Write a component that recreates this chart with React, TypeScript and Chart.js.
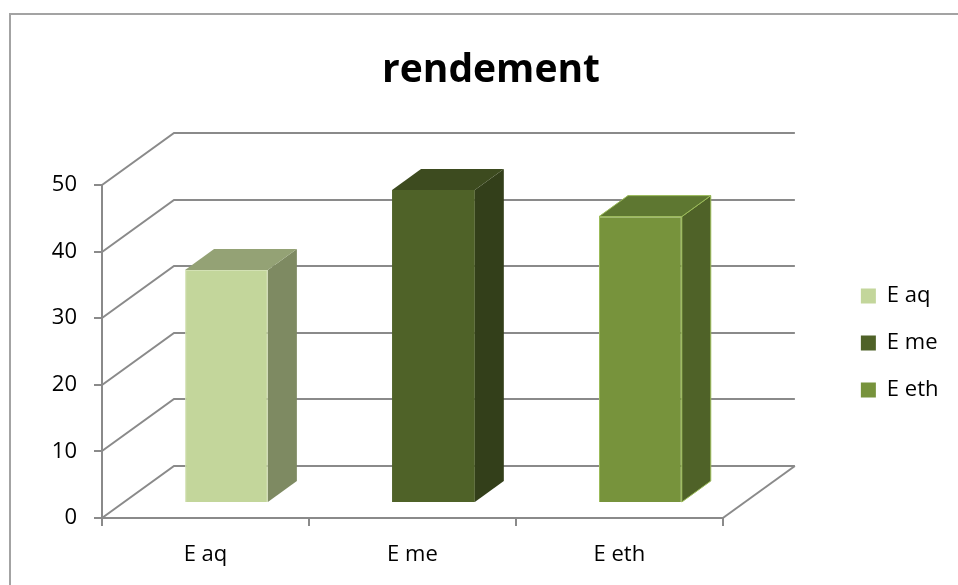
import React, { useEffect, useRef } from 'react';
import { Chart, registerables } from 'chart.js';

Chart.register(...registerables);

// ---- data ----
const categories = ['E aq', 'E me', 'E eth'];
const values = [35, 47, 43];
const yMin = 0;
const yMax = 50;
const yStep = 10;
const chartTitle = 'rendement';

// ---- colours ----
const frontColors = ['#c3d69b', '#4f6228', '#77933c'];
const sideColors = ['#7e8a62', '#333f1a', '#4f6228'];
const topColors = ['#94a275', '#3d4b1f', '#5e7731'];
const edgeColors = ['#d3e1b4', '#4f6228', '#9bbb59'];

const FONT = '"Open Sans", "Noto Sans", sans-serif';
const GRID = '#8a8a8a';

// 3D projection (style)
const DEPTH_X = 72;
const DEPTH_Y = -52;
const BAR_FRONT = 0.29;
const BAR_DEPTH = 0.4;

const threeD = {
  id: 'threeD',
  beforeDraw(chart: any) {
    const ctx = chart.ctx;
    ctx.save();
    ctx.fillStyle = '#ffffff';
    ctx.fillRect(0, 0, chart.width, chart.height);
    ctx.strokeStyle = '#a3a3a3';
    ctx.lineWidth = 2;
    ctx.strokeRect(10, 14, chart.width + 40, chart.height + 40);
    ctx.restore();
  },
  beforeDatasetsDraw(chart: any) {
    const ctx = chart.ctx;
    const a = chart.chartArea;
    const y = chart.scales.y;
    ctx.save();
    ctx.strokeStyle = GRID;
    ctx.lineWidth = 2;
    ctx.lineJoin = 'miter';
    for (const t of y.ticks) {
      const py = Math.round(y.getPixelForValue(t.value));
      ctx.beginPath();
      ctx.moveTo(a.left, py);
      ctx.lineTo(a.left + DEPTH_X, py + DEPTH_Y);
      ctx.lineTo(a.right + DEPTH_X, py + DEPTH_Y);
      ctx.stroke();
    }
    const pb = Math.round(y.getPixelForValue(yMin));
    ctx.beginPath();
    ctx.moveTo(a.right, pb);
    ctx.lineTo(a.right + DEPTH_X, pb + DEPTH_Y);
    ctx.stroke();
    ctx.restore();
    ctx.save();
    ctx.translate(Math.round(DEPTH_X * BAR_FRONT), Math.round(DEPTH_Y * BAR_FRONT));
  },
  afterDatasetsDraw(chart: any) {
    const ctx = chart.ctx;
    ctx.restore();
    const fx = Math.round(DEPTH_X * BAR_FRONT);
    const fy = Math.round(DEPTH_Y * BAR_FRONT);
    const bx = Math.round(DEPTH_X * BAR_DEPTH);
    const by = Math.round(DEPTH_Y * BAR_DEPTH);
    const meta = chart.getDatasetMeta(0);
    meta.data.forEach((el: any, i: number) => {
      const { x, y, base, width } = el.getProps(['x', 'y', 'base', 'width'], true);
      const xl = x - width / 2 + fx;
      const xr = x + width / 2 + fx;
      const top = y + fy;
      const bot = base + fy;
      ctx.save();
      // side face
      ctx.beginPath();
      ctx.moveTo(xr, top);
      ctx.lineTo(xr + bx, top + by);
      ctx.lineTo(xr + bx, bot + by);
      ctx.lineTo(xr, bot);
      ctx.closePath();
      ctx.fillStyle = sideColors[i];
      ctx.fill();
      if (i === 2) {
        ctx.strokeStyle = edgeColors[i];
        ctx.lineWidth = 1;
        ctx.stroke();
      }
      // top face
      ctx.beginPath();
      ctx.moveTo(xl, top);
      ctx.lineTo(xl + bx, top + by);
      ctx.lineTo(xr + bx, top + by);
      ctx.lineTo(xr, top);
      ctx.closePath();
      ctx.fillStyle = topColors[i];
      ctx.fill();
      if (i === 2) {
        ctx.strokeStyle = edgeColors[i];
        ctx.lineWidth = 1;
        ctx.stroke();
      }
      ctx.restore();
    });
  },
};

export default function App() {
  const ref = useRef<HTMLCanvasElement | null>(null);
  useEffect(() => {
    if (!ref.current) return;
    const chart = new Chart(ref.current, {
      type: 'bar',
      data: {
        labels: categories,
        datasets: [
          {
            data: values,
            backgroundColor: frontColors,
            borderColor: edgeColors,
            borderWidth: [1, 0, 1],
            categoryPercentage: 1,
            barPercentage: 0.4,
          } as any,
        ],
      },
      options: {
        animation: false,
        responsive: false,
        devicePixelRatio: 1,
        layout: { padding: { left: 33.5, right: 9.5, top: 0, bottom: 0 } },
        plugins: {
          title: {
            display: true,
            text: chartTitle,
            color: '#000',
            font: { family: FONT, size: 39, weight: 'bold', lineHeight: 1.2 },
            padding: { top: 47, bottom: 91.2 },
          },
          legend: {
            display: true,
            position: 'right',
            fullSize: false,
            align: 'start',
            title: { display: true, text: '', padding: { top: 0, bottom: 63 }, font: { size: 10 } },
            labels: {
              boxWidth: 15,
              boxHeight: 15,
              padding: 25,
              color: '#000',
              font: { family: FONT, size: 22 },
              generateLabels: () =>
                categories.map((c, i) => ({
                  text: c,
                  fillStyle: frontColors[i],
                  strokeStyle: frontColors[i],
                  fontColor: '#000',
                  lineWidth: 0,
                  hidden: false,
                  index: i,
                  datasetIndex: 0,
                })),
            },
          },
          tooltip: { enabled: false },
        },
        scales: {
          x: {
            grid: { offset: true, drawOnChartArea: false, drawTicks: true, tickLength: 8, color: GRID, lineWidth: 2 },
            border: { display: true, color: GRID, width: 2 },
            ticks: { color: '#000', font: { family: FONT, size: 22 }, padding: 16 },
            afterFit: (s: any) => {
              s.height = 67;
            },
          },
          y: {
            min: yMin,
            max: yMax,
            grid: { drawOnChartArea: false, drawTicks: true, tickLength: 8, color: GRID, lineWidth: 2 },
            border: { display: true, color: GRID, width: 2 },
            ticks: { stepSize: yStep, color: '#000', font: { family: FONT, size: 22 }, padding: 17 },
            afterFit: (s: any) => {
              s.width = 68.5;
            },
          },
          y2: {
            type: 'linear',
            position: 'right',
            display: true,
            grid: { display: false, drawOnChartArea: false },
            border: { display: false },
            ticks: { display: false },
            afterFit: (s: any) => {
              s.width = 113;
            },
          },
        } as any,
      },
      plugins: [threeD],
    } as any);
    return () => chart.destroy();
  }, []);
  return (
    <div style={{ position: 'fixed', left: 0, top: 0, width: 958, height: 585, background: '#fff' }}>
      <canvas ref={ref} width={958} height={585} style={{ display: 'block', width: 958, height: 585 }} />
    </div>
  );
}
